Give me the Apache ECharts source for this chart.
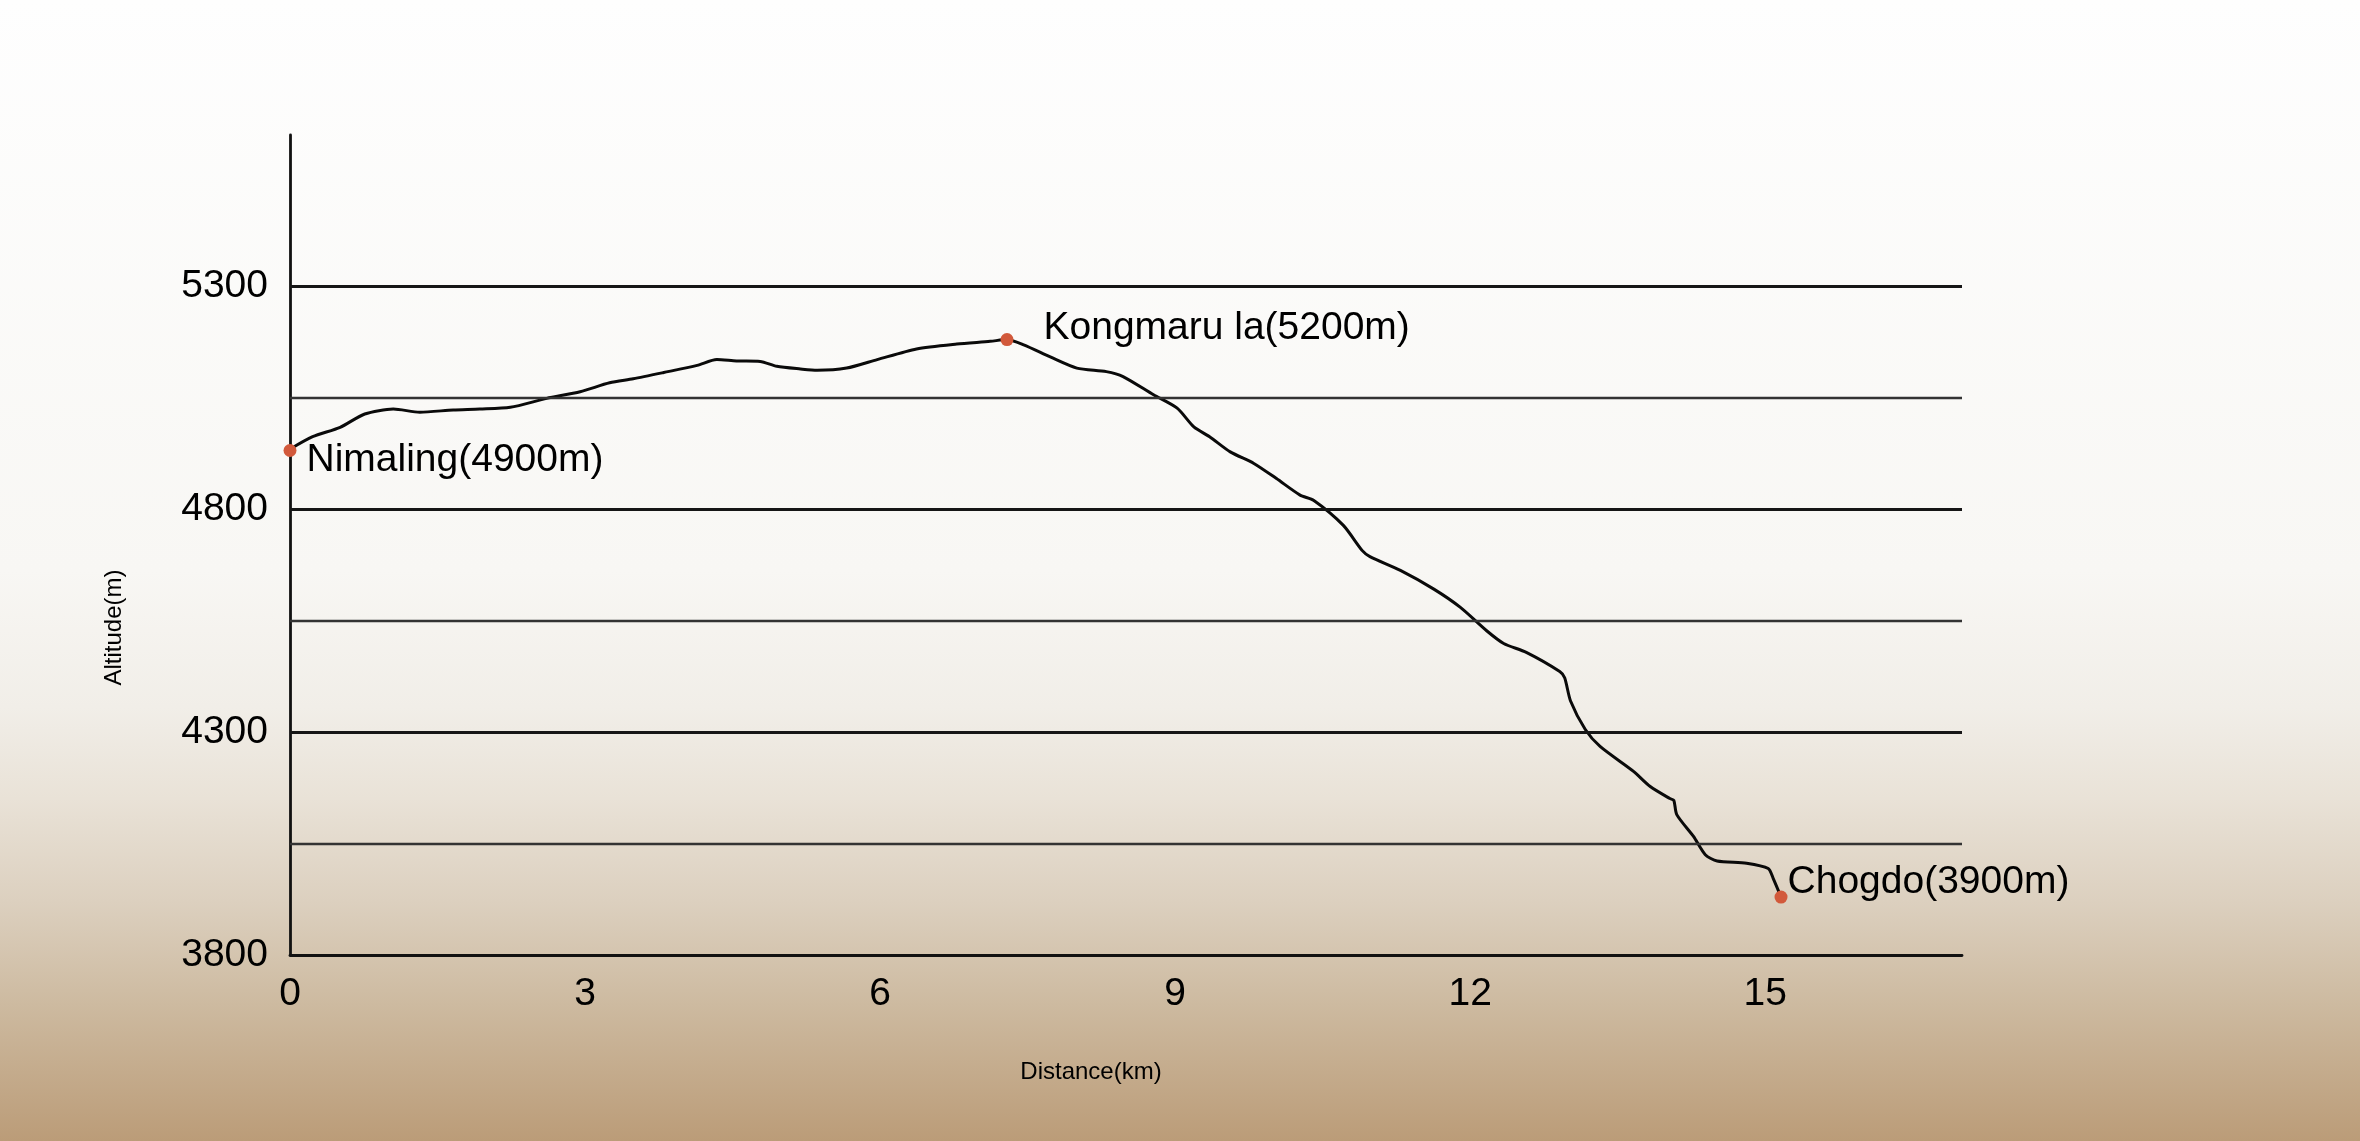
<!DOCTYPE html>
<html>
<head>
<meta charset="utf-8">
<title>Nimaling - Chogdo altitude profile</title>
<script src="https://cdn.jsdelivr.net/npm/echarts@6/dist/echarts.min.js"></script>
<style>
  html, body { margin: 0; padding: 0; width: 100%; height: 100%; overflow: hidden; }
  #profile { width: 100vw; height: 100vh; }
</style>
</head>
<body>
<div id="profile"></div>
<script>
// trail profile
var distanceKm = [0, 0.23, 0.51, 0.76, 1.05, 1.32, 1.66, 1.93, 2.24, 2.61, 2.95, 3.25, 3.49, 3.80, 4.14, 4.34,
    4.54, 4.78, 4.95, 5.19, 5.36, 5.66, 5.97, 6.37, 6.78, 7.12, 7.29, 7.46, 7.73, 8.00, 8.30, 8.47, 8.78,
    9.02, 9.19, 9.35, 9.56, 9.80, 10.03, 10.27, 10.41, 10.71, 10.90, 10.98, 11.29, 11.63, 11.90, 12.17,
    12.34, 12.57, 12.91, 12.96, 13.02, 13.17, 13.32, 13.66, 13.83, 14.03, 14.07, 14.10, 14.27, 14.39,
    14.51, 14.81, 15.03, 15.08, 15.16];
var altitudeM = [4935, 4963, 4984, 5014, 5025, 5018, 5023, 5025, 5029, 5049, 5064, 5084, 5093, 5107, 5123, 5136,
    5133, 5132, 5121, 5115, 5112, 5117, 5136, 5160, 5171, 5177, 5181, 5169, 5142, 5117, 5109, 5098, 5057,
    5027, 4985, 4963, 4929, 4903, 4869, 4832, 4820, 4764, 4708, 4694, 4663, 4621, 4580, 4527,
    4499, 4479, 4436, 4422, 4370, 4306, 4268, 4212, 4178, 4151, 4147, 4115, 4066, 4025,
    4011, 4006, 3994, 3972, 3930];

var placeNames = ['Nimaling(4900m)', 'Kongmaru la(5200m)', 'Chogdo(3900m)'];
var placeKm = [0, 7.29, 15.16];
var placeAlt = [4932, 5181, 3930];

var yTickLabels = [3800, 4300, 4800, 5300];
var xTickLabels = [0, 3, 6, 9, 12, 15];
var majorLevels = [4300, 4800, 5300];
var minorLevels = [4050, 4550, 5050];

var font = 'Liberation Sans, Arial, Helvetica, sans-serif';

function chart() {
    var myChart = echarts.init(document.getElementById('profile'));

    var profile = [];
    for (var i = 0; i < distanceKm.length; i++) {
        profile.push([distanceKm[i], altitudeM[i]]);
    }

    var labelOffsets = [[5, 10], [25, -11], [-5, -15]];
    var places = placeNames.map(function (name, i) {
        return {
            name: name,
            value: [placeKm[i], placeAlt[i]],
            label: { offset: labelOffsets[i] }
        };
    });

    var levels = [];
    majorLevels.forEach(function (v) {
        levels.push({ yAxis: v, lineStyle: { color: '#161616', width: 2.8, type: 'solid' } });
    });
    minorLevels.forEach(function (v) {
        levels.push({ yAxis: v, lineStyle: { color: '#333', width: 2.3, type: 'solid' } });
    });

    var option = {
        backgroundColor: new echarts.graphic.LinearGradient(0, 0, 0, 1, [
            { offset: 0, color: '#fefefe' },
            { offset: 0.5, color: '#f8f7f4' },
            { offset: 0.62, color: '#f1eee8' },
            { offset: 0.7, color: '#e9e2d7' },
            { offset: 0.79, color: '#dcd0bf' },
            { offset: 0.88, color: '#cdbaa0' },
            { offset: 1, color: '#bb9c78' }
        ]),
        animation: false,
        grid: {
            left: 290,
            right: 398,
            top: 135,
            bottom: 186
        },
        xAxis: {
            type: 'value',
            min: 0,
            max: 17,
            interval: 3,
            name: 'Distance(km)',
            nameLocation: 'middle',
            nameGap: 105,
            nameTextStyle: {
                fontFamily: font,
                fontSize: 24,
                color: '#000',
                padding: [0, 70, 0, 0]
            },
            axisLine: { lineStyle: { color: '#111', width: 2.8 } },
            axisTick: { show: false },
            splitLine: { show: false },
            axisLabel: {
                fontFamily: font,
                fontSize: 39,
                color: '#000',
                margin: 20,
                showMaxLabel: false,
                formatter: function (v) {
                    return xTickLabels.indexOf(v) > -1 ? String(v) : '';
                }
            }
        },
        yAxis: {
            type: 'value',
            min: 3800,
            max: 5640,
            interval: 500,
            name: 'Altitude(m)',
            nameLocation: 'middle',
            nameGap: 164,
            nameTextStyle: {
                fontFamily: font,
                fontSize: 24,
                color: '#000',
                padding: [0, 165, 0, 0]
            },
            axisLine: { show: true, lineStyle: { color: '#111', width: 2.8 } },
            axisTick: { show: false },
            splitLine: { show: false },
            axisLabel: {
                fontFamily: font,
                fontSize: 39,
                color: '#000',
                margin: 22,
                showMaxLabel: false,
                formatter: function (v) {
                    return yTickLabels.indexOf(v) > -1 ? String(v) : '';
                }
            }
        },
        series: [
            {
                name: 'profile',
                type: 'line',
                data: profile,
                smooth: 0.25,
                showSymbol: false,
                silent: true,
                lineStyle: { color: '#0a0a0a', width: 3 },
                z: 3,
                markLine: {
                    silent: true,
                    symbol: ['none', 'none'],
                    label: { show: false },
                    data: levels
                }
            },
            {
                name: 'places',
                type: 'scatter',
                data: places,
                symbolSize: 13,
                silent: true,
                itemStyle: { color: '#d2593b', opacity: 1 },
                z: 5,
                label: {
                    show: true,
                    position: 'right',
                    formatter: '{b}',
                    fontFamily: font,
                    fontSize: 39,
                    color: '#000',
                    opacity: 1
                }
            }
        ]
    };
    myChart.setOption(option);
    window.onresize = function () {
        myChart.resize();
    };
}
chart();
</script>
</body>
</html>
